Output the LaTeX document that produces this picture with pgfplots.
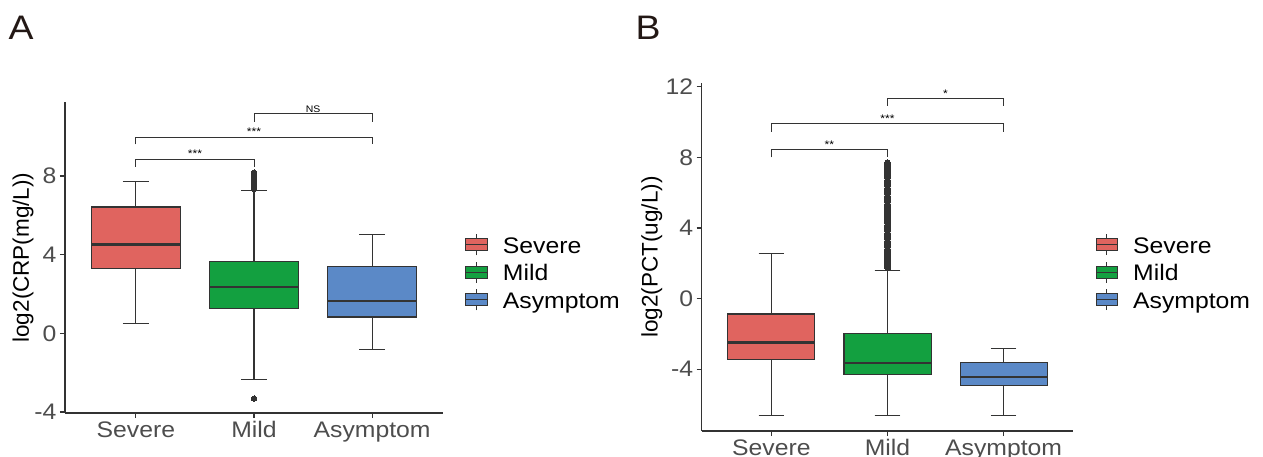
\documentclass[border=0pt]{standalone}
\usepackage{fontspec}
\setmainfont{Liberation Sans}[FakeStretch=1.1]
\newfontfamily\plainsans{Liberation Sans}
\usepackage{pgfplots}
\pgfplotsset{compat=1.18}
\usepgfplotslibrary{statistics}
\definecolor{sev}{RGB}{224,100,95}
\definecolor{mil}{RGB}{19,160,64}
\definecolor{asy}{RGB}{91,137,199}
\definecolor{dg}{RGB}{51,51,51}
\definecolor{tl}{RGB}{77,77,77}
\definecolor{lab}{RGB}{35,24,21}
\tikzset{sig/.style={font=\fontsize{11}{12}\selectfont, anchor=base, text=black}}
\pgfplotsset{
  keyimg/.style={legend image code/.code={
      \draw[dg, line width=1pt] (10.85pt,-7.5pt) -- (10.85pt,13.5pt);
      \draw[dg, line width=1pt, fill=#1] (0pt,-3pt) rectangle (21.7pt,9pt);
      \draw[dg, line width=1pt] (0pt,3pt) -- (21.7pt,3pt);
  }},
  ggaxis/.style={
    scale only axis,
    axis x line*=bottom, axis y line*=left,
    axis line style={-, dg, line width=1.2pt},
    xmin=0.4, xmax=3.6,
    xtick={1,2,3}, xticklabels={Severe,Mild,Asymptom},
    tick align=outside, major tick length=5pt,
    tick style={dg, line width=1.2pt},
    every tick label/.append style={text=tl, font=\fontsize{22.5}{26}\selectfont},
    /pgf/number format/assume math mode=true,
    every axis y label/.style={rotate=90, anchor=center, font=\plainsans\fontsize{22.5}{26}\selectfont, text=black},
    clip=false,
    legend cell align=left,
    legend style={draw=none, fill=none, anchor=west, inner sep=0pt, row sep=1pt,
      font=\fontsize{22.5}{26}\selectfont,
      nodes={text height=16pt, text depth=5pt, inner sep=2pt},
      /tikz/every odd column/.append style={column sep=13pt}},
    boxplot/draw direction=y,
    boxplot/box extend=0.75,
    boxplot/whisker extend=0.22,
    boxplot/every median/.style={line width=2.4pt},
  },
  bx/.style={fill=#1, draw=dg, line width=1.1pt, forget plot,
    mark=*, mark size=2.7pt, mark options={fill=dg, draw=dg, line width=0pt}},
  br/.style={dg, line width=1pt, forget plot},
}
\begin{document}
\begin{tikzpicture}
\useasboundingbox (0pt,0pt) rectangle (1263pt,456pt);
% Panel A
\begin{axis}[ggaxis, at={(65pt,43pt)}, anchor=south west, width=378pt, height=311pt,
  ymin=-4.05, ymax=11.76, ytick={-4,0,4,8},
  ylabel={log2(CRP(mg/L))},
  every axis y label/.append style={at={(axis description cs:-0.111,0.5)}},
  legend style={at={(rel axis cs:1,0.445)}, xshift=22pt}]
\addplot[bx=sev, boxplot prepared={draw position=1, lower whisker=0.49, lower quartile=3.30, median=4.52, upper quartile=6.42, upper whisker=7.74}] coordinates {};
\addplot[bx=mil, boxplot prepared={draw position=2, lower whisker=-2.34, lower quartile=1.25, median=2.37, upper quartile=3.65, upper whisker=7.24}]
  table[row sep=\\, y index=0] {v\\ -3.32\\ 7.35\\ 7.45\\ 7.55\\ 7.65\\ 7.75\\ 7.85\\ 7.95\\ 8.05\\ 8.15\\ 8.17\\};
\addplot[bx=asy, boxplot prepared={draw position=3, lower whisker=-0.81, lower quartile=0.83, median=1.64, upper quartile=3.42, upper whisker=5.02}] coordinates {};
\addplot[br] coordinates {(1,8.47) (1,8.85) (2,8.85) (2,8.47)};
\addplot[br] coordinates {(1,9.60) (1,9.98) (3,9.98) (3,9.60)};
\addplot[br] coordinates {(2,10.76) (2,11.17) (3,11.17) (3,10.76)};
\node[sig] at (axis cs:1.5,8.92) {***};
\node[sig] at (axis cs:2,10.05) {***};
\node[sig, font=\fontsize{9.5}{11}\selectfont] at (axis cs:2.5,11.24) {NS};
\addlegendimage{keyimg=sev}\addlegendentry{Severe}
\addlegendimage{keyimg=mil}\addlegendentry{Mild}
\addlegendimage{keyimg=asy}\addlegendentry{Asymptom}
\end{axis}
% Panel B
\begin{axis}[ggaxis, at={(701.7pt,25pt)}, anchor=south west, width=371.6pt, height=348pt,
  ymin=-7.5, ymax=12.22, ytick={-4,0,4,8,12},
  ylabel={log2(PCT(ug/L))},
  every axis y label/.append style={at={(axis description cs:-0.1346,0.5)}},
  legend style={at={(rel axis cs:1,0.45)}, xshift=22pt}]
\addplot[bx=sev, boxplot prepared={draw position=1, lower whisker=-6.63, lower quartile=-3.47, median=-2.49, upper quartile=-0.87, upper whisker=2.55}] coordinates {};
\addplot[bx=mil, mark size=3pt, boxplot prepared={draw position=2, lower whisker=-6.63, lower quartile=-4.28, median=-3.64, upper quartile=-1.96, upper whisker=1.61}]
  table[row sep=\\, y index=0] {v\\ 1.75\\ 1.90\\ 2.05\\ 2.20\\ 2.35\\ 2.50\\ 2.65\\ 2.80\\ 2.95\\ 3.10\\ 3.25\\ 3.40\\ 3.55\\ 3.70\\ 3.85\\ 4.00\\ 4.15\\ 4.30\\ 4.45\\ 4.60\\ 4.75\\ 4.90\\ 5.05\\ 5.20\\ 5.35\\ 5.50\\ 5.65\\ 5.80\\ 5.95\\ 6.10\\ 6.25\\ 6.40\\ 6.55\\ 6.70\\ 6.85\\ 7.00\\ 7.15\\ 7.30\\ 7.45\\ 7.60\\ 7.70\\};
\addplot[bx=asy, boxplot prepared={draw position=3, lower whisker=-6.63, lower quartile=-4.93, median=-4.45, upper quartile=-3.64, upper whisker=-2.81}] coordinates {};
\addplot[br] coordinates {(1,8.01) (1,8.46) (2,8.46) (2,8.01)};
\addplot[br] coordinates {(1,9.46) (1,9.94) (3,9.94) (3,9.46)};
\addplot[br] coordinates {(2,10.92) (2,11.35) (3,11.35) (3,10.92)};
\node[sig] at (axis cs:1.5,8.53) {**};
\node[sig] at (axis cs:2,10.01) {***};
\node[sig] at (axis cs:2.5,11.42) {*};
\addlegendimage{keyimg=sev}\addlegendentry{Severe}
\addlegendimage{keyimg=mil}\addlegendentry{Mild}
\addlegendimage{keyimg=asy}\addlegendentry{Asymptom}
\end{axis}
\node[font=\fontsize{34}{36}\selectfont, text=lab] at (21pt,428.5pt) {A};
\node[font=\fontsize{34}{36}\selectfont, text=lab] at (648pt,428.5pt) {B};
\end{tikzpicture}
\end{document}
